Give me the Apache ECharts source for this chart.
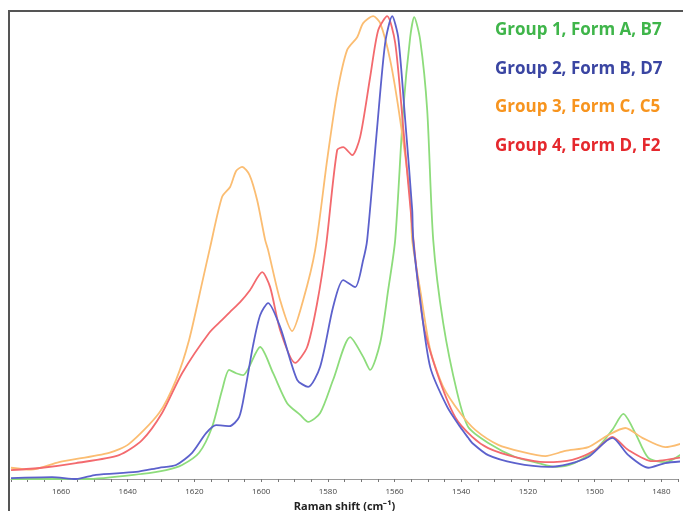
<!DOCTYPE html>
<html>
<head>
<meta charset="utf-8">
<script src="https://cdn.jsdelivr.net/npm/echarts@6/dist/echarts.min.js"></script>
<style>html,body{margin:0;padding:0;background:#fff}#c{width:683px;height:511px}</style>
</head>
<body>
<div id="c"></div>
<script>
// Series names (legend)
const seriesNames = ["Group 1, Form A, B7", "Group 2, Form B, D7", "Group 3, Form C, C5", "Group 4, Form D, F2"];

// Raman shift (cm-1), intensity (arb., 0-100)
const group1 = [[1675,0],[1652.5,0],[1635.7,1.1],[1628.5,1.9],[1623.7,3.0],[1618.6,5.6],[1614.7,11.1],[1611.7,19.0],[1609.6,23.3],[1607.5,22.6],[1605.4,22.2],[1600.3,28.2],[1596.4,22.6],[1592.2,16.2],[1588.3,13.7],[1585.9,12.2],[1582.3,14.1],[1578.4,21.2],[1573.3,30.3],[1569.4,26.1],[1567.3,23.3],[1564.3,29.1],[1561.9,40.4],[1559.8,51.1],[1557.4,78.8],[1555.3,94.4],[1554.1,98.7],[1552.3,93.8],[1550.2,78.8],[1548.4,51.1],[1545.4,33.3],[1541.2,18.4],[1537.9,11.1],[1531.9,7.7],[1523.8,4.7],[1516.9,3.4],[1511.8,2.6],[1506.7,3.2],[1499.8,6.2],[1494.7,10.5],[1491.4,13.9],[1487.8,9.8],[1483.9,4.5],[1478.8,3.6],[1473.4,5.6]];
const group2 = [[1675,0.2],[1662.7,0.4],[1655.5,0],[1649.5,0.9],[1637.5,1.5],[1630.6,2.4],[1625.5,3.0],[1620.7,5.6],[1616.5,9.8],[1613.5,11.5],[1609.5,11.3],[1606.6,13.2],[1604.8,19.0],[1602.4,28.6],[1600.3,35.0],[1597.9,37.6],[1594.3,32.5],[1589.2,21.2],[1585.9,19.7],[1582.3,24.0],[1578.4,36.8],[1575.4,42.5],[1571.8,41.0],[1569.4,46.8],[1568.2,51.1],[1565.2,75.2],[1562.8,93.2],[1560.7,98.9],[1558.9,94.4],[1556.8,76.7],[1554.7,57.5],[1554.4,51.1],[1552.3,38.2],[1549.3,23.9],[1544.2,15.4],[1540.3,11.1],[1537.9,8.8],[1536.7,7.7],[1531.9,5.1],[1523.8,3.4],[1513.9,2.6],[1507.9,3.2],[1501.9,4.7],[1494.7,8.8],[1489.9,5.1],[1483.9,2.4],[1478.8,3.4],[1473.4,3.8]];
const group3 = [[1675,2.4],[1669,2.0],[1660.6,3.6],[1645.6,5.6],[1639.6,7.5],[1630.6,14.1],[1625.5,21.2],[1621.6,29.7],[1617.7,41.9],[1615.3,49.5],[1611.7,60.3],[1609.3,62.4],[1607.5,65.8],[1605.7,66.7],[1603.5,65.0],[1601.2,59.6],[1598.8,51.1],[1597.9,48.9],[1594.3,38.2],[1590.7,31.6],[1587.4,38.2],[1583.8,48.9],[1580.2,68.2],[1577.2,82.5],[1574.2,91.7],[1571.2,94.4],[1569.4,97.4],[1566.4,98.9],[1564.3,97.4],[1561.3,89.5],[1558.3,76.7],[1555.3,60.3],[1554.7,51.1],[1552.3,40.4],[1549.3,27.6],[1545.4,19.7],[1540.3,14.1],[1535.8,10.5],[1528.9,7.3],[1521.7,5.8],[1514.8,4.9],[1508.8,6.0],[1501.9,6.8],[1495.9,9.4],[1490.8,10.9],[1485.7,8.8],[1478.8,6.8],[1473.4,7.7]];
const group4 = [[1675,1.9],[1665.7,2.4],[1655.5,3.4],[1642.6,5.1],[1635.7,8.3],[1629.7,14.1],[1623.7,22.6],[1615.6,31.2],[1611.7,34.0],[1609.3,35.7],[1606.3,37.8],[1603.3,40.4],[1599.7,44.2],[1597.3,41.0],[1594.3,31.8],[1589.8,24.8],[1586.2,28.2],[1583.2,37.6],[1580.5,50.0],[1577.2,70.3],[1575.4,70.9],[1572.7,69.2],[1570.3,73.1],[1567.3,85.9],[1564.9,95.9],[1562.2,98.9],[1559.8,93.2],[1557.4,75.2],[1554.7,53.8],[1551.4,33.3],[1547.2,22.6],[1541.8,13.2],[1536.7,9.0],[1531.9,6.6],[1523.8,4.7],[1514.8,3.6],[1506.7,4.1],[1499.8,6.2],[1494.7,9.0],[1489.9,6.2],[1482.7,3.8],[1473.4,4.7]];

const lineColors = ["#8ddc7b", "#5c61cc", "#fbbd72", "#f36a6e"];
const legendColors = ["#3fb54a", "#3a45a2", "#f7941e", "#e5282d"];
const seriesData = [group1, group2, group3, group4];

const chart = echarts.init(document.getElementById('c'), null, {renderer: 'canvas'});
chart.setOption({
  backgroundColor: '#fff',
  animation: false,
  grid: {left: 11, top: 11, right: 5, bottom: 32, containLabel: false, outerBoundsMode: 'none'},
  xAxis: {
    type: 'value', inverse: true, min: 1475, max: 1675, interval: 5,
    name: 'Raman shift (cm⁻¹)', nameLocation: 'middle', nameGap: 19,
    nameTextStyle: {fontFamily: 'Open Sans', fontWeight: 'bold', fontSize: 11, color: '#222'},
    axisLine: {lineStyle: {color: '#9a9a9a', width: 1}},
    axisTick: {show: true, length: 3, inside: false, lineStyle: {color: '#777'}},
    axisLabel: {fontSize: 8, color: '#444', margin: 9, fontFamily: 'Open Sans',
      formatter: v => (v % 20 === 0 ? String(v) : '')},
    splitLine: {show: false}
  },
  yAxis: {type: 'value', min: 0, max: 100, show: false},
  legend: {
    orient: 'vertical', left: 485, top: 17, itemGap: 21.5, icon: 'none', itemWidth: 0, itemHeight: 0,
    selectedMode: false,
    textStyle: {fontFamily: 'Open Sans', fontWeight: 'bold', fontSize: 17},
    data: seriesNames.map((n, i) => ({name: n, textStyle: {color: legendColors[i]}}))
  },
  graphic: [{
    type: 'polyline', silent: true, z: 100,
    shape: {points: [[9, 511], [9, 11], [683, 11]]},
    style: {stroke: '#555', lineWidth: 2, fill: null}
  }],
  series: seriesNames.map((n, i) => ({
    name: n, type: 'line', data: seriesData[i], showSymbol: false, symbol: 'none',
    clip: false, smooth: 0.25, lineStyle: {color: lineColors[i], width: 1.8}, itemStyle: {color: lineColors[i]},
    z: [2, 5, 3, 4][i]
  }))
});
</script>
</body>
</html>
